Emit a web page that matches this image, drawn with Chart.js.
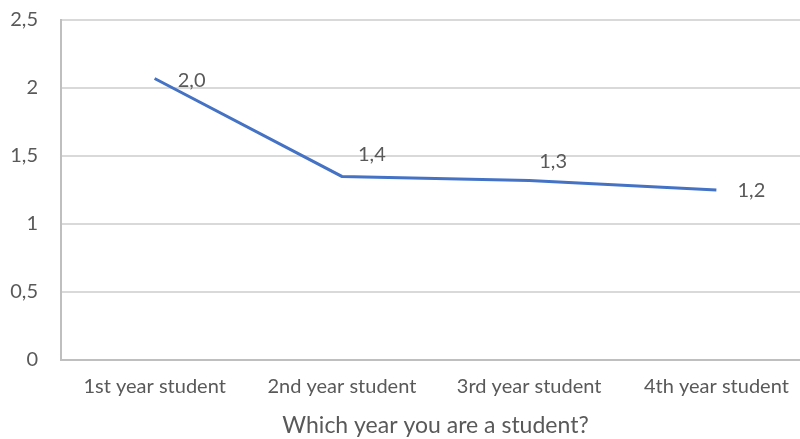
<!DOCTYPE html>
<html>
<head>
<meta charset="utf-8">
<script src="https://cdn.jsdelivr.net/npm/chart.js@4.4.0/dist/chart.umd.min.js"></script>
<style>
  html, body { margin: 0; padding: 0; background: #fff; overflow: hidden; }
  #wrap { position: absolute; left: -4px; top: 0; width: 814px; height: 439px; }
</style>
</head>
<body>
<div id="wrap"><canvas id="chart"></canvas></div>
<script>
// values
const categories = ['1st year student', '2nd year student', '3rd year student', '4th year student'];
const values = [2.07, 1.35, 1.32, 1.25];
const valueLabels = ['2,0', '1,4', '1,3', '1,2'];
const yTicks = [0, 0.5, 1, 1.5, 2, 2.5];

// where each data label sits relative to its point (px)
const labelOffsets = [[37, 2], [30, -22], [24, -19], [35, 1]];

const textColor = '#595959';
const fontFamily = 'Lato, "Open Sans", sans-serif';

const pointLabels = {
  id: 'pointLabels',
  afterDatasetsDraw(chart) {
    const ctx = chart.ctx;
    const meta = chart.getDatasetMeta(0);
    ctx.save();
    ctx.font = '20px ' + fontFamily;
    ctx.fillStyle = textColor;
    ctx.textAlign = 'center';
    ctx.textBaseline = 'middle';
    meta.data.forEach((pt, i) => {
      ctx.fillText(valueLabels[i], pt.x + labelOffsets[i][0], pt.y + labelOffsets[i][1]);
    });
    ctx.restore();
  }
};

new Chart(document.getElementById('chart'), {
  type: 'line',
  data: {
    labels: categories,
    datasets: [{
      data: values,
      borderColor: '#4472C4',
      borderWidth: 3,
      pointRadius: 0,
      tension: 0
    }]
  },
  options: {
    responsive: true,
    maintainAspectRatio: false,
    animation: false,
    layout: { padding: { top: 20, right: 0, left: 0, bottom: 0 } },
    plugins: {
      legend: { display: false },
      tooltip: { enabled: false }
    },
    scales: {
      x: {
        offset: true,
        grid: { display: false, drawTicks: false },
        border: { display: true, color: '#bfbfbf', width: 2 },
        ticks: { color: textColor, font: { family: fontFamily, size: 20 }, padding: 15, maxRotation: 0 },
        title: {
          display: true,
          text: 'Which year you are a student?',
          color: textColor,
          font: { family: fontFamily, size: 23 },
          padding: { top: 4, bottom: 0 }
        },
        afterFit(scale) { scale.height = 79; scale.paddingLeft = 0; scale.paddingRight = 0; }
      },
      y: {
        min: 0,
        max: 2.5,
        afterBuildTicks(scale) { scale.ticks = yTicks.map(v => ({ value: v })); },
        grid: { color: '#d9d9d9', lineWidth: 2, drawTicks: false },
        border: { display: true, color: '#bfbfbf', width: 2 },
        ticks: {
          color: textColor,
          font: { family: fontFamily, size: 20 },
          padding: 23,
          callback: v => String(v).replace('.', ',')
        },
        afterFit(scale) { scale.width = 65; scale.paddingTop = 0; scale.paddingBottom = 0; }
      }
    }
  },
  plugins: [pointLabels]
});
</script>
</body>
</html>
